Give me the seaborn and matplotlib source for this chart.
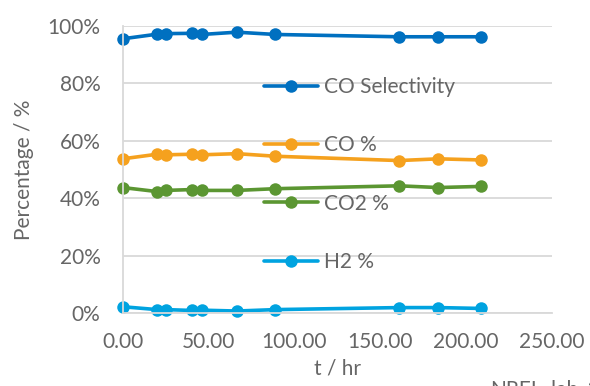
import matplotlib
matplotlib.use("Agg")
import matplotlib.pyplot as plt
import seaborn as sns
import pandas as pd
from matplotlib.ticker import FuncFormatter

# Time on stream (hr)
t_hr = [0.0, 20.0, 25.0, 40.5, 46.0, 66.5, 89.0, 161.0, 184.0, 209.0]

# Measured percentages
co_selectivity = [95.5, 97.1, 97.3, 97.4, 97.0, 97.8, 97.0, 96.2, 96.2, 96.2]
co_pct = [53.7, 55.3, 55.1, 55.3, 55.1, 55.5, 54.6, 53.1, 53.7, 53.3]
co2_pct = [43.7, 42.3, 42.7, 43.0, 42.7, 42.7, 43.3, 44.3, 43.7, 44.1]
h2_pct = [2.2, 1.2, 1.2, 0.9, 1.0, 0.7, 1.2, 1.9, 1.9, 1.6]

series_names = ["CO Selectivity", "CO %", "CO2 %", "H2 %"]
series_values = [co_selectivity, co_pct, co2_pct, h2_pct]
series_colors = ["#0070C0", "#F5A11E", "#5B9632", "#00A3E0"]

x_ticks = [0, 50, 100, 150, 200, 250]
y_ticks = [0, 20, 40, 60, 80, 100]

rows = []
for name, vals in zip(series_names, series_values):
    for t, v in zip(t_hr, vals):
        rows.append({"t": t, "value": v / 100.0, "series": name})
df = pd.DataFrame(rows)

sns.set_theme(style="white")
plt.rcParams["font.family"] = ["Lato", "DejaVu Sans"]

FS = 15
TXT = "#666666"

fig = plt.figure(figsize=(5.9, 3.86), dpi=100)
ax = fig.add_axes([0.208, 0.189, 0.727, 0.744])

sns.lineplot(
    data=df, x="t", y="value", hue="series", hue_order=series_names,
    palette=series_colors, marker="o", markersize=9, markeredgewidth=0,
    linewidth=2.6, ax=ax, sort=False, estimator=None,
)

ax.set_xlim(0, 250)
ax.set_ylim(0, 1.0)
ax.set_xticks(x_ticks)
ax.set_yticks([v / 100 for v in y_ticks])
ax.xaxis.set_major_formatter(FuncFormatter(lambda v, p: f"{v:.2f}"))
ax.yaxis.set_major_formatter(FuncFormatter(lambda v, p: f"{v*100:.0f}%"))

grid_c = "#D9D9D9"
ax.yaxis.grid(True, color=grid_c, linewidth=1.3)
ax.xaxis.grid(False)
for s in ["top", "right"]:
    ax.spines[s].set_visible(False)
for s in ["left", "bottom"]:
    ax.spines[s].set_color(grid_c)
    ax.spines[s].set_linewidth(1.3)
ax.tick_params(axis="x", direction="in", length=6, color=grid_c, width=1.3,
               labelsize=FS, labelcolor=TXT, pad=14)
ax.tick_params(axis="y", length=0, labelsize=FS, labelcolor=TXT, pad=16)

ax.set_xlabel("t / hr", fontsize=FS, color=TXT, labelpad=4)
ax.set_ylabel("Percentage / %", fontsize=FS, color=TXT, labelpad=10)

for line in ax.lines:
    line.set_clip_on(False)

leg = ax.legend(
    loc="upper left", bbox_to_anchor=(0.304, 0.858), frameon=False,
    fontsize=FS, labelcolor=TXT, handlelength=2.6,
    handletextpad=0.3, labelspacing=1.84, borderpad=0,
)
for h in leg.legend_handles:
    h.set_linewidth(2.6)
    h.set_markersize(9)

fig.text(0.83, -0.035, "NREL_lab_2", fontsize=FS, color=TXT,
         ha="left", va="bottom")

fig.savefig("out.png", dpi=100)
